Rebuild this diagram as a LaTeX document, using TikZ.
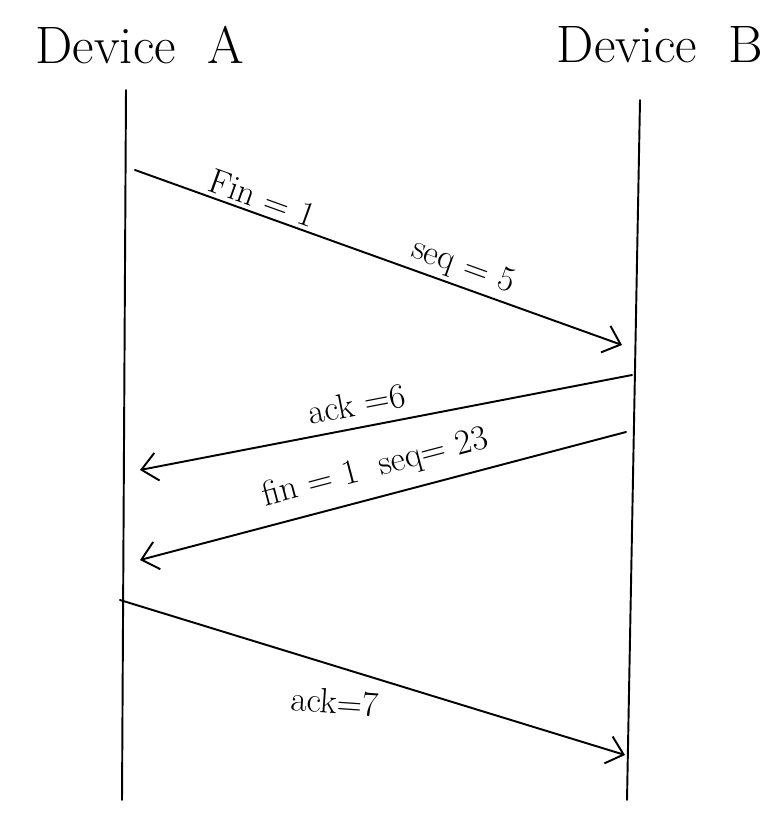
\documentclass[tikz,border=0pt]{standalone}
\usetikzlibrary{arrows.meta}
\tikzset{
  lifeline/.style={line width=1.1pt},
  msg/.style={line width=1.1pt, ->},
  msglabel/.style={font=\fontsize{20}{24}\selectfont, sloped, inner sep=2pt},
}
\begin{document}
\begin{tikzpicture}[x=0.02cm, y=-0.02cm, line join=round, line cap=round, >={Straight Barb[length=9pt,width=16pt]}]
	\useasboundingbox (0,0) rectangle (773,837);
	% device heads
	\node[font=\fontsize{30}{36}\selectfont] (devA) at (140,45) {Device\ \ A};
	\node[font=\fontsize{30}{36}\selectfont] (devB) at (660,45) {Device\ \ B};
	% lifelines
	\coordinate (topA) at (126,90);
	\coordinate (botA) at (122,800);
	\coordinate (topB) at (640,100);
	\coordinate (botB) at (627,800);
	\draw[lifeline] (topA) -- (botA);
	\draw[lifeline] (topB) -- (botB);
	% message ends
	\coordinate (a1) at (135,170);
	\coordinate (b1) at (622,345);
	\coordinate (b2) at (632,375);
	\coordinate (a2) at (140,470);
	\coordinate (b3) at (626,432);
	\coordinate (a3) at (140,560);
	\coordinate (a4) at (120,600);
	\coordinate (b4) at (625,755);
	% messages
	\draw[msg] (a1) -- (b1)
		node[msglabel, pos=0.25, above] (fin1) {Fin = 1}
		node[msglabel, pos=0.66, above] (seq5) {seq = 5};
	\draw[msg] (b2) -- (a2)
		node[msglabel, pos=0.55, above=4pt] (ack6) {ack =6};
	\draw[msg] (b3) -- (a3)
		node[msglabel, pos=0.5, above=5pt] (finseq) {fin = 1\ \ seq= 23};
	\draw[msg] (a4) -- (b4);
	\node[font=\fontsize{20}{24}\selectfont, rotate=-4] (ack7) at (335,702) {ack=7};
\end{tikzpicture}
\end{document}
